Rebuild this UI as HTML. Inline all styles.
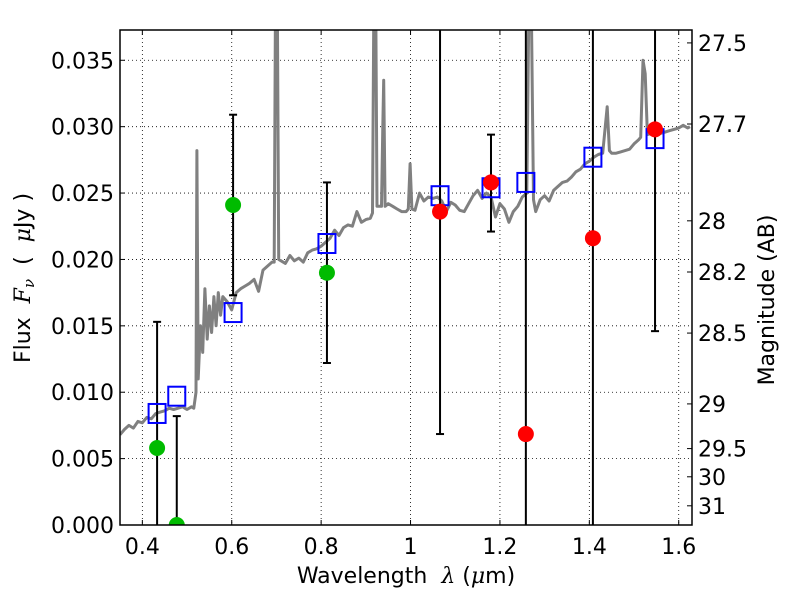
<!DOCTYPE html>
<html><head><meta charset="utf-8"><style>
html,body{margin:0;padding:0;background:#fff;width:800px;height:600px;overflow:hidden;}
svg{display:block;font-family:"DejaVu Sans","Liberation Sans",sans-serif;}
</style></head><body>
<svg id="chart" width="800" height="600" viewBox="0 0 800 600" xmlns="http://www.w3.org/2000/svg" overflow="hidden">
<rect width="800" height="600" fill="#fff"/>
<g id="grid"></g>
<g id="spec"></g>
<g id="marks"></g>
<g id="axes"></g>
<text x="406" y="583" font-size="22" text-anchor="middle" xml:space="preserve">Wavelength  <tspan font-style="italic" font-family="DejaVu Serif,serif">λ</tspan> (<tspan font-style="italic" font-family="DejaVu Serif,serif">μ</tspan>m)</text>
<text transform="translate(30,278) rotate(-90)" font-size="22" text-anchor="middle" xml:space="preserve">Flux  <tspan font-style="italic" font-family="DejaVu Serif,serif">F<tspan font-size="15" dy="4">ν</tspan></tspan><tspan dy="-4">  (  </tspan><tspan font-style="italic" font-family="DejaVu Serif,serif">μ</tspan>Jy )</text>
<text transform="translate(774,300) rotate(-90)" font-size="22" text-anchor="middle">Magnitude (AB)</text>
</svg>
<script>
const xTicks=[0.4,0.6,0.8,1.0,1.2,1.4,1.6];
const xTickLabels=["0.4","0.6","0.8","1","1.2","1.4","1.6"];
const yTicks=[0,0.005,0.01,0.015,0.02,0.025,0.03,0.035];
const yTickLabels=["0.000","0.005","0.010","0.015","0.020","0.025","0.030","0.035"];
const magTicks=[27.5,27.7,28,28.2,28.5,29,29.5,30,31];
const magTickLabels=["27.5","27.7","28","28.2","28.5","29","29.5","30","31"];
const specWave=[0.35,0.36,0.37,0.38,0.39,0.40,0.41,0.42,0.43,0.44,0.45,0.46,0.47,0.48,0.49,0.50,0.51,0.515,0.52,0.522,0.525,0.53,0.535,0.54,0.545,0.55,0.555,0.56,0.565,0.57,0.575,0.58,0.59,0.60,0.61,0.62,0.63,0.64,0.65,0.66,0.67,0.68,0.69,0.695,0.698,0.700,0.702,0.705,0.72,0.73,0.74,0.75,0.76,0.77,0.78,0.79,0.80,0.81,0.82,0.83,0.84,0.85,0.86,0.87,0.88,0.89,0.90,0.91,0.915,0.918,0.920,0.922,0.925,0.935,0.938,0.940,0.943,0.95,0.96,0.97,0.98,0.99,0.995,0.999,1.003,1.01,1.02,1.03,1.04,1.05,1.06,1.07,1.08,1.09,1.10,1.11,1.12,1.13,1.14,1.15,1.16,1.17,1.18,1.19,1.20,1.21,1.22,1.23,1.24,1.25,1.26,1.265,1.27,1.275,1.28,1.29,1.30,1.31,1.32,1.33,1.34,1.35,1.36,1.37,1.38,1.39,1.40,1.41,1.42,1.43,1.44,1.445,1.45,1.46,1.47,1.48,1.49,1.50,1.51,1.515,1.52,1.525,1.53,1.54,1.55,1.56,1.57,1.58,1.59,1.60,1.61,1.62,1.625];
const specFlux=[0.0068,0.0072,0.0075,0.0073,0.0078,0.0077,0.0081,0.0080,0.0084,0.0085,0.0086,0.0088,0.0087,0.0088,0.0089,0.0087,0.0089,0.0088,0.0100,0.0282,0.0110,0.0150,0.0130,0.0178,0.0140,0.0165,0.0145,0.0172,0.0150,0.0175,0.0158,0.0172,0.0168,0.0162,0.0175,0.0178,0.0180,0.0182,0.0185,0.0176,0.0192,0.0195,0.0198,0.0198,0.0400,0.0400,0.0400,0.0200,0.0197,0.0203,0.0199,0.0201,0.0198,0.0205,0.0207,0.0208,0.0210,0.0213,0.0216,0.0222,0.0218,0.0224,0.0226,0.0225,0.0236,0.0228,0.0230,0.0231,0.0235,0.0400,0.0400,0.0400,0.0240,0.0240,0.0300,0.0335,0.0240,0.0242,0.0240,0.0238,0.0236,0.0236,0.0238,0.0272,0.0238,0.0237,0.0250,0.0244,0.0247,0.0246,0.0247,0.0244,0.0236,0.0243,0.0241,0.0237,0.0236,0.0242,0.0248,0.0252,0.0246,0.0250,0.0247,0.0232,0.0242,0.0238,0.0228,0.0236,0.0240,0.0247,0.0250,0.0400,0.0400,0.0245,0.0236,0.0245,0.0248,0.0244,0.0252,0.0255,0.0258,0.0259,0.0262,0.0266,0.0268,0.0272,0.0274,0.0277,0.0279,0.0280,0.0315,0.0282,0.0280,0.0280,0.0281,0.0282,0.0283,0.0287,0.0290,0.0292,0.0350,0.0340,0.0294,0.0295,0.0296,0.0295,0.0296,0.0297,0.0298,0.0299,0.0301,0.0299,0.0300];
const blueWave=[0.433,0.477,0.603,0.813,1.066,1.18,1.258,1.408,1.547];
const blueFlux=[0.0084,0.0097,0.0160,0.0212,0.0248,0.0254,0.0258,0.0277,0.0291];
const greenWave=[0.433,0.477,0.603,0.813];
const greenFlux=[0.0058,0.0,0.0241,0.0190];
const greenErrLo=[-0.01,-0.01,0.0173,0.0122];
const greenErrHi=[0.0153,0.0082,0.0309,0.0258];
const redWave=[1.066,1.18,1.258,1.408,1.547];
const redFlux=[0.0236,0.0258,0.00685,0.0216,0.0298];
const redErrLo=[0.00685,0.0221,-0.01,-0.01,0.0146];
const redErrHi=[0.05,0.0294,0.05,0.05,0.05];

const L=120,R=692,T=30,B=525;
const x0=0.35,x1=1.6297,yMax=0.03728;
const X=v=>L+(v-x0)/(x1-x0)*(R-L);
const Y=v=>B-v/yMax*(B-T);
const magToFlux=m=>Math.pow(10,(23.9-m)/2.5);
const NS="http://www.w3.org/2000/svg";
function mk(tag,attrs,parent){const e=document.createElementNS(NS,tag);for(const k in attrs)e.setAttribute(k,attrs[k]);parent.appendChild(e);return e;}
const grid=document.getElementById('grid'),spec=document.getElementById('spec'),marks=document.getElementById('marks'),axes=document.getElementById('axes');
const clip=mk('clipPath',{id:'pc'},document.getElementById('chart'));mk('rect',{x:L,y:T,width:R-L,height:B-T},clip);
spec.setAttribute('clip-path','url(#pc)');marks.setAttribute('clip-path','url(#pc)');
xTicks.forEach((t,i)=>{
  const g=mk('line',{x1:X(t),x2:X(t),y1:T,y2:B,stroke:'#000','stroke-width':0.8,'stroke-dasharray':'1,3'},grid);
  
  
  mk('line',{x1:X(t),x2:X(t),y1:B,y2:B-5,stroke:'#000'},axes);
  mk('line',{x1:X(t),x2:X(t),y1:T,y2:T+5,stroke:'#000'},axes);
  const tx=mk('text',{x:X(t),y:B+29,'font-size':22,'text-anchor':'middle'},axes);tx.textContent=xTickLabels[i];
  
  
});
yTicks.forEach((t,i)=>{
  if(t>0){const g=mk('line',{x1:L,x2:R,y1:Y(t),y2:Y(t),stroke:'#000','stroke-width':0.8,'stroke-dasharray':'1,3'},grid);
  
  }
  mk('line',{x1:L,x2:L+5,y1:Y(t),y2:Y(t),stroke:'#000'},axes);
  const tx=mk('text',{x:L-6,y:Y(t)+8,'font-size':22,'text-anchor':'end'},axes);tx.textContent=yTickLabels[i];
  
  
});
magTicks.forEach((m,i)=>{
  const yy=Y(magToFlux(m));
  mk('line',{x1:R,x2:R-5,y1:yy,y2:yy,stroke:'#000'},axes);
  const tx=mk('text',{x:R+6,y:yy+8,'font-size':22},axes);tx.textContent=magTickLabels[i];
  
  
});
const d=specWave.map((w,i)=>(i?'L':'M')+X(w).toFixed(1)+','+Y(specFlux[i]).toFixed(1)).join(' ');
const p=mk('path',{d:d,fill:'none',stroke:'#808080','stroke-width':3,'stroke-linejoin':'round'},spec);


function errbar(x,lo,hi){
  mk('line',{x1:X(x),x2:X(x),y1:Y(lo),y2:Y(hi),stroke:'#000','stroke-width':2},marks);
  [lo,hi].forEach(v=>mk('line',{x1:X(x)-4,x2:X(x)+4,y1:Y(v),y2:Y(v),stroke:'#000','stroke-width':2},marks));
}
greenWave.forEach((w,i)=>errbar(w,greenErrLo[i],greenErrHi[i]));
redWave.forEach((w,i)=>errbar(w,redErrLo[i],redErrHi[i]));
blueWave.forEach((w,i)=>{
  const r=mk('rect',{x:X(w)-8.5,y:Y(blueFlux[i])-9.5,width:17,height:19,fill:'none',stroke:'#0000ff','stroke-width':2},marks);
  
  
});
greenWave.forEach((w,i)=>{
  const c=mk('circle',{cx:X(w),cy:Y(greenFlux[i]),r:8,fill:'#00bb00'},marks);
  
  
});
redWave.forEach((w,i)=>{
  const c=mk('circle',{cx:X(w),cy:Y(redFlux[i]),r:8,fill:'#ff0000'},marks);
  
  
});
const fr=mk('rect',{x:L,y:T,width:R-L,height:B-T,fill:'none',stroke:'#000','stroke-width':1.5},axes);


</script>
</body></html>
